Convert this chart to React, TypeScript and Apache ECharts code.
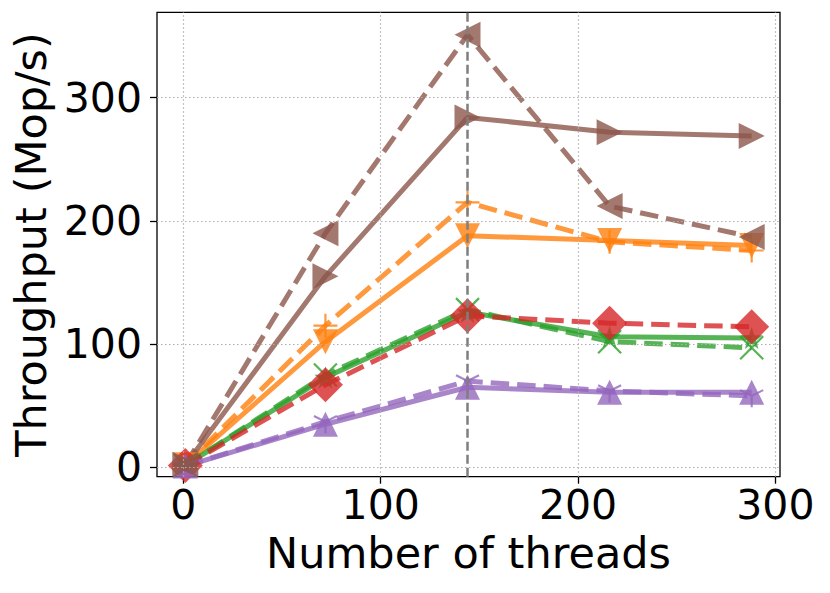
import React, { useEffect, useRef } from "react";
import * as echarts from "echarts";

const xThreads = [1, 72, 144, 216, 288];
const brownSolid = [2, 155, 284, 272, 269];
const brownDashed = [2, 190, 351, 212, 187];
const orangeSolid = [2, 102, 188, 184, 180];
const orangeDashed = [2, 115, 215, 183, 176];
const greenSolid = [1.5, 73, 126, 106, 105];
const greenDashed = [1.5, 75, 128, 102, 97];
const redDashed = [1.5, 67, 123, 117, 114];
const purpleSolid = [1, 35, 65, 61, 61];
const purpleDashed = [1, 37, 70, 62, 58];
const xTicks = [0, 100, 200, 300];
const yTicks = [0, 100, 200, 300];
const refThreads = 144;

const C = {
  orange: "#ff7f0e",
  green: "#2ca02c",
  red: "#d62728",
  purple: "#9467bd",
  brown: "#8c564b",
};

const SYM_X = "path://M0,0L10,10M10,0L0,10";
const SYM_PLUS = "path://M5,0L5,10M0,5L10,5";
const SYM_TRI_DOWN = "path://M5,0M5,5L5,10M5,5L0.67,2.5M5,5L9.33,2.5";
const SYM_STAR =
  "path://M5,0L6.176,3.382L9.755,3.455L6.902,5.618L7.939,9.045L5,7L2.061,9.045L3.098,5.618L0.245,3.455L3.824,3.382Z";

const FONT = "DejaVu Sans";
const ALPHA = 0.8;

function pairs(ys: number[]) {
  return xThreads.map((x, i) => [x, ys[i]]);
}

function mkSeries(
  name: string,
  ys: number[],
  color: string,
  dashed: boolean,
  symbol: string,
  size: number,
  rotate: number,
  stroked: boolean
) {
  return {
    name,
    type: "line",
    data: pairs(ys),
    symbol,
    symbolSize: size,
    symbolRotate: rotate,
    showSymbol: true,
    showAllSymbol: true,
    silent: true,
    lineStyle: {
      color,
      width: 5,
      type: dashed ? [18.5, 8] : "solid",
      opacity: ALPHA,
    },
    itemStyle: stroked
      ? { color, borderColor: color, borderWidth: 2.2, opacity: ALPHA }
      : { color, borderWidth: 0, opacity: ALPHA },
    emphasis: { disabled: true },
    z: 3,
  };
}

export default function App() {
  const ref = useRef<HTMLDivElement>(null);
  useEffect(() => {
    const chart = echarts.init(ref.current!, null, { renderer: "svg" });
    const option = {
      animation: false,
      grid: {
        left: 157,
        right: 50,
        top: 12.3,
        bottom: 116.3,
        show: true,
        borderColor: "#000",
        borderWidth: 1.3,
        backgroundColor: "transparent",
      },
      xAxis: {
        type: "value",
        min: -13.35,
        max: 302.35,
        axisLine: { show: false, onZero: false },
        axisTick: {
          show: true,
          customValues: xTicks,
          length: 7,
          lineStyle: { color: "#000", width: 1.3 },
        },
        axisLabel: {
          customValues: xTicks,
          fontSize: 41,
          color: "#000",
          fontFamily: FONT,
          margin: 8,
        },
        splitLine: { show: false },
        name: "Number of threads",
        nameLocation: "middle",
        nameGap: 55,
        nameTextStyle: { fontSize: 43, color: "#000", fontFamily: FONT },
      },
      yAxis: {
        type: "value",
        min: -7.6,
        max: 369.3,
        axisLine: { show: false, onZero: false },
        axisTick: {
          show: true,
          customValues: yTicks,
          length: 7,
          lineStyle: { color: "#000", width: 1.3 },
        },
        axisLabel: {
          customValues: yTicks,
          fontSize: 41,
          color: "#000",
          fontFamily: FONT,
          margin: 15,
        },
        splitLine: { show: false },
        name: "Throughput (Mop/s)",
        nameLocation: "middle",
        nameGap: 100,
        nameTextStyle: { fontSize: 43, color: "#000", fontFamily: FONT },
      },
      series: [
        {
          name: "grid",
          type: "line",
          data: pairs(purpleSolid),
          showSymbol: false,
          symbol: "none",
          silent: true,
          lineStyle: { opacity: 0, width: 0 },
          z: 1,
          markLine: {
            silent: true,
            symbol: "none",
            animation: false,
            label: { show: false },
            lineStyle: { color: "#b0b0b0", type: [1.5, 2.5], width: 1.2 },
            data: [
              ...xTicks.map((v) => ({ xAxis: v })),
              ...yTicks.map((v) => ({ yAxis: v })),
            ],
          },
        },
        mkSeries("orange solid", orangeSolid, C.orange, false, "triangle", 25, 180, false),
        mkSeries("orange dashed", orangeDashed, C.orange, true, SYM_PLUS, 24, 0, true),
        mkSeries("green solid", greenSolid, C.green, false, SYM_STAR, 22, 0, false),
        mkSeries("green dashed", greenDashed, C.green, true, SYM_X, 23, 0, true),
        mkSeries("red dashed", redDashed, C.red, true, "diamond", 35, 0, false),
        mkSeries("purple solid", purpleSolid, C.purple, false, "triangle", 25, 0, false),
        mkSeries("purple dashed", purpleDashed, C.purple, true, SYM_TRI_DOWN, 23, 0, true),
        mkSeries("brown solid", brownSolid, C.brown, false, "triangle", 26, -90, false),
        mkSeries("brown dashed", brownDashed, C.brown, true, "triangle", 26, 90, false),
        {
          name: "ref",
          type: "line",
          data: pairs(purpleSolid),
          showSymbol: false,
          symbol: "none",
          silent: true,
          lineStyle: { opacity: 0, width: 0 },
          z: 10,
          markLine: {
            silent: true,
            symbol: "none",
            animation: false,
            label: { show: false },
            lineStyle: { color: "#7f7f7f", type: [9, 4], width: 2.5, opacity: 1 },
            data: [{ xAxis: refThreads }],
          },
        },
      ],
    };
    chart.setOption(option as any);
    return () => chart.dispose();
  }, []);
  return (
    <div
      ref={ref}
      style={{ position: "fixed", left: 0, top: 0, width: 830, height: 593, background: "#fff" }}
    />
  );
}
